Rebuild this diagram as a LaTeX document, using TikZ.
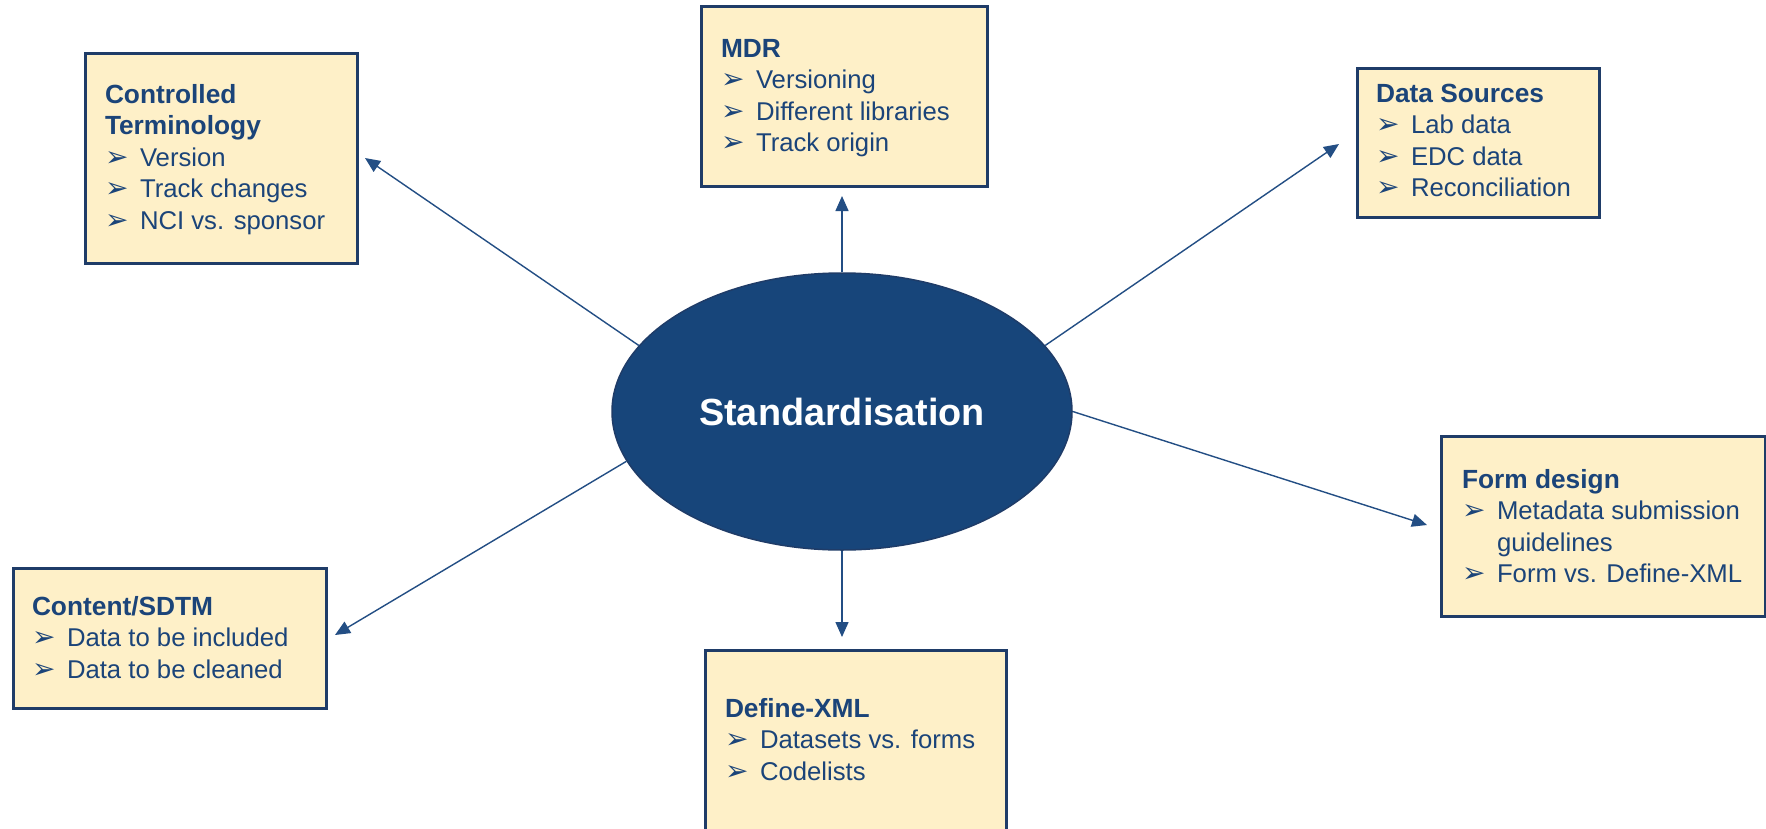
\documentclass[tikz,border=0pt]{standalone}
\usepackage{fontspec}
\setmainfont{Liberation Sans}
\newfontfamily\dvfont{DejaVu Sans}
\usetikzlibrary{shapes.geometric,arrows.meta}
\definecolor{navy}{HTML}{17457A}
\definecolor{boxfill}{HTML}{FEF0C8}
\definecolor{boxline}{HTML}{1F3C68}
\definecolor{txt}{HTML}{1B4479}
\definecolor{arrc}{HTML}{234E84}
\newcommand\mybul{{\dvfont\fontsize{28}{28}\selectfont ➢}}
\newcommand\myitm[1]{\hbox{\fontsize{25.7}{31.5}\selectfont\makebox[35pt][l]{\mybul}#1}}
\newcommand\mycont[1]{\hbox{\fontsize{25.7}{31.5}\selectfont\hspace*{35pt}#1}}
\newcommand\myhd[1]{\hbox{\bfseries\fontsize{26.3}{31.5}\selectfont #1}}
\newcommand\mylines[1]{\vtop{\lineskiplimit=-100pt\baselineskip=31.5pt #1}}
\tikzset{
  boxnode/.style={draw=boxline, fill=boxfill, line width=3.4pt, anchor=north west, inner sep=0pt},
  txtnode/.style={anchor=base west, inner sep=0pt, outer sep=0pt, text=txt},
  arr/.style={draw=arrc, line width=1.4pt, -{Triangle[length=15pt,width=13pt]}}
}
\begin{document}
\begin{tikzpicture}[x=1pt,y=-1pt]
\clip (0,0) rectangle (1766,828);
\fill[white] (0,0) rectangle (1766,828);
% boxes
\node[boxnode, minimum width=272pt, minimum height=210pt] (ct) at (84,52) {};
\node[boxnode, minimum width=286pt, minimum height=180pt] (mdr) at (700,5) {};
\node[boxnode, minimum width=242pt, minimum height=149pt] (ds) at (1356,67) {};
\node[boxnode, minimum width=324pt, minimum height=180pt] (fd) at (1440,435) {};
\node[boxnode, minimum width=313pt, minimum height=140pt] (cs) at (12,567) {};
\node[boxnode, minimum width=301pt, minimum height=220pt] (dx) at (704,649) {};
% texts
\node[txtnode] (ctx) at (105,103) {\mylines{\myhd{Controlled}\myhd{Terminology}\myitm{Version}\myitm{Track changes}\myitm{NCI vs. sponsor}}};
\node[txtnode] (mdrx) at (721,57) {\mylines{\myhd{MDR}\myitm{Versioning}\myitm{Different libraries}\myitm{Track origin}}};
\node[txtnode] (dsx) at (1376,102) {\mylines{\myhd{Data Sources}\myitm{Lab data}\myitm{EDC data}\myitm{Reconciliation}}};
\node[txtnode] (fdx) at (1462,488) {\mylines{\myhd{Form design}\myitm{Metadata submission}\mycont{guidelines}\myitm{Form vs. Define-XML}}};
\node[txtnode] (csx) at (32,615) {\mylines{\myhd{Content/SDTM}\myitm{Data to be included}\myitm{Data to be cleaned}}};
\node[txtnode] (dxx) at (725,717) {\mylines{\myhd{Define-XML}\myitm{Datasets vs. forms}\myitm{Codelists}}};
% centre
\node[ellipse, draw=boxline, line width=1.5pt, fill=navy, minimum width=460pt, minimum height=277pt, inner sep=0pt, text=white, font=\bfseries\fontsize{37.8}{40}\selectfont] (st) at (842,411.5) {Standardisation};
% arrow tips
\coordinate (ctT) at (365,158);
\coordinate (mdrT) at (842,196);
\coordinate (dsT) at (1339,144);
\coordinate (fdT) at (1427,525);
\coordinate (csT) at (335,635);
\coordinate (dxT) at (842,637);
\draw[arr] (st.162.2) -- (ctT);
\draw[arr] (st.north) -- (mdrT);
\draw[arr] (st.18.6) -- (dsT);
\draw[arr] (st.0) -- (fdT);
\draw[arr] (st.193.1) -- (csT);
\draw[arr] (st.south) -- (dxT);
\end{tikzpicture}
\end{document}
